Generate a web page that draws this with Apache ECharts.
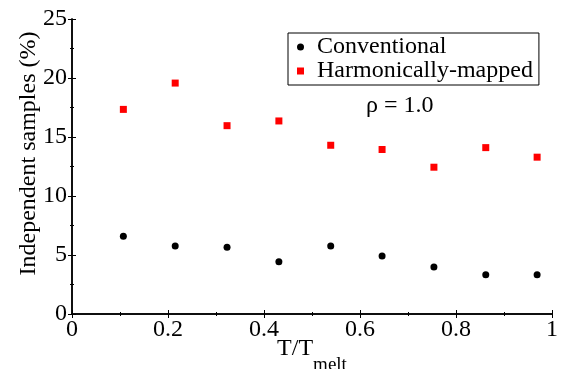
<!DOCTYPE html>
<html>
<head>
<meta charset="utf-8">
<script src="https://cdn.jsdelivr.net/npm/echarts@6/dist/echarts.min.js"></script>
<style>
  html, body { margin: 0; padding: 0; background: #fff; }
  #chart { width: 567px; height: 369px; }
</style>
</head>
<body>
<div id="chart"></div>
<script>
// T/Tmelt positions
var tRatio = [0.107, 0.215, 0.323, 0.431, 0.539, 0.646, 0.754, 0.862, 0.969];
// independent samples (%)
var conventional = [6.59, 5.77, 5.66, 4.42, 5.76, 4.92, 3.99, 3.32, 3.32];
var harmonic = [17.34, 19.57, 15.96, 16.36, 14.30, 13.94, 12.44, 14.10, 13.29];
var seriesNames = ['Conventional', 'Harmonically-mapped'];

var font = 'Liberation Serif';

function pairs(xs, ys) {
  var out = [];
  for (let i = 0; i < xs.length; i = i + 1) {
    out.push([xs[i], ys[i]]);
  }
  return out;
}

var lineStyle = { color: '#000', width: 1.5 };
var tickIn = { show: true, inside: true, length: 4, lineStyle: { color: '#000', width: 1 } };
var minorIn = { show: true, splitNumber: 2, length: 2, lineStyle: { color: '#000', width: 1 } };
var labelRich = { s: { fontFamily: font, fontSize: 24, color: '#000' } };

var chartDom = document.getElementById('chart');
var myChart = echarts.init(chartDom);
var option = {
  animation: false,
  backgroundColor: '#fff',
  textStyle: { fontFamily: font },
  title: {
    text: 'ρ = 1.0',
    left: 361,
    top: 89,
    textStyle: { fontFamily: font, fontSize: 24, fontWeight: 'normal', color: '#000' }
  },
  legend: {
    orient: 'vertical',
    left: 288,
    top: 33,
    data: [
      { name: seriesNames[0], icon: 'circle' },
      { name: seriesNames[1], icon: 'rect' }
    ],
    borderColor: '#000',
    borderWidth: 1,
    borderRadius: 0,
    padding: [2, 6, 2, 9],
    itemGap: 0,
    itemWidth: 7,
    itemHeight: 7,
    textStyle: { fontFamily: font, fontSize: 24, lineHeight: 23, color: '#000', padding: [0, 0, 0, 8] }
  },
  grid: { left: 72, top: 19, width: 480, height: 295, outerBoundsMode: 'none', containLabel: false },
  xAxis: [
    {
      type: 'value', min: 0, max: 1, interval: 0.2,
      name: '{a|T/T}{b|melt}',
      nameLocation: 'middle',
      nameGap: 9,
      nameMoveOverlap: false,
      nameTextStyle: {
        rich: {
          a: { fontFamily: font, fontSize: 24, color: '#000' },
          b: { fontFamily: font, fontSize: 19, color: '#000', padding: [33, 0, 0, 0] }
        }
      },
      axisLine: { show: true, lineStyle: lineStyle },
      axisTick: tickIn,
      minorTick: minorIn,
      splitLine: { show: false },
      axisLabel: {
        margin: 4,
        rich: labelRich,
        formatter: function (v) { return '{s|' + String(Math.round(v * 10) / 10) + '}'; }
      }
    },
    {
      type: 'value', min: 0, max: 1, interval: 0.2, position: 'top',
      axisLine: { show: true, lineStyle: lineStyle },
      axisTick: tickIn,
      minorTick: minorIn,
      splitLine: { show: false },
      axisLabel: { show: false }
    }
  ],
  yAxis: [
    {
      type: 'value', min: 0, max: 25, interval: 5,
      name: 'Independent samples (%)',
      nameLocation: 'middle',
      nameGap: 31,
      nameMoveOverlap: false,
      nameTextStyle: { fontFamily: font, fontSize: 24, color: '#000', padding: [0, 0, 0, 26] },
      axisLine: { show: true, lineStyle: lineStyle },
      axisTick: tickIn,
      minorTick: minorIn,
      splitLine: { show: false },
      axisLabel: {
        margin: 5,
        rich: labelRich,
        formatter: function (v) { return '{s|' + v + '}'; }
      }
    },
    {
      type: 'value', min: 0, max: 25, interval: 5, position: 'right',
      axisLine: { show: true, lineStyle: lineStyle },
      axisTick: tickIn,
      minorTick: minorIn,
      splitLine: { show: false },
      axisLabel: { show: false }
    }
  ],
  series: [
    {
      name: seriesNames[0],
      type: 'scatter',
      symbol: 'circle',
      symbolSize: 7,
      itemStyle: { color: '#000', opacity: 1 },
      data: pairs(tRatio, conventional)
    },
    {
      name: seriesNames[1],
      type: 'scatter',
      symbol: 'rect',
      symbolSize: 7,
      itemStyle: { color: '#ff0000', opacity: 1 },
      data: pairs(tRatio, harmonic)
    }
  ]
};

option && myChart.setOption(option);
</script>
</body>
</html>
